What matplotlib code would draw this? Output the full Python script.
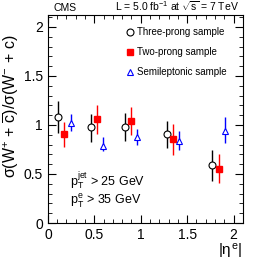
import matplotlib
matplotlib.use('Agg')
import matplotlib.pyplot as plt
from matplotlib.lines import Line2D
from matplotlib.ticker import MultipleLocator

plt.rcParams['font.family'] = ['Liberation Sans', 'DejaVu Sans']
plt.rcParams['mathtext.fontset'] = 'custom'
plt.rcParams['mathtext.rm'] = 'Liberation Sans'
plt.rcParams['mathtext.it'] = 'Liberation Sans'

# values
three_eta = [0.11, 0.46, 0.83, 1.28, 1.77]
three_val = [1.085, 0.977, 0.98, 0.905, 0.592]
three_lo = [0.92, 0.83, 0.837, 0.762, 0.43]
three_hi = [1.24, 1.11, 1.125, 1.044, 0.745]

two_eta = [0.176, 0.524, 0.90, 1.35, 1.84]
two_val = [0.905, 1.058, 1.04, 0.854, 0.551]
two_lo = [0.78, 0.908, 0.898, 0.694, 0.405]
two_hi = [1.034, 1.204, 1.18, 1.007, 0.701]

semi_eta = [0.244, 0.589, 0.96, 1.41, 1.91]
semi_val = [1.017, 0.786, 0.874, 0.84, 0.942]
semi_lo = [0.939, 0.738, 0.80, 0.745, 0.813]
semi_hi = [1.112, 0.881, 0.956, 0.942, 1.08]


def errs(val, lo, hi):
    return [[v - l for v, l in zip(val, lo)], [h - v for v, h in zip(val, hi)]]


fig = plt.figure(figsize=(2.66, 2.70), dpi=100)
ax = fig.add_axes([0.18, 0.174, 0.733, 0.77])

ax.errorbar(three_eta, three_val, yerr=errs(three_val, three_lo, three_hi), fmt='o',
            mfc='white', mec='black', color='black', ms=5, mew=0.8, elinewidth=1)
ax.errorbar(two_eta, two_val, yerr=errs(two_val, two_lo, two_hi), fmt='s',
            mfc='red', mec='red', color='red', ms=5, elinewidth=1)
ax.errorbar(semi_eta, semi_val, yerr=errs(semi_val, semi_lo, semi_hi), fmt='^',
            mfc='white', mec='blue', color='blue', ms=5, mew=0.8, elinewidth=1)

ax.set_xlim(0, 2.1)
ax.set_ylim(0, 2.12)
ax.xaxis.set_minor_locator(MultipleLocator(0.1))
ax.yaxis.set_minor_locator(MultipleLocator(0.1))
ax.tick_params(which='both', direction='in', top=True, right=True, labelsize=10)
ax.tick_params(which='major', length=6)
ax.tick_params(which='minor', length=3)
ax.set_yticks([0, 0.5, 1, 1.5, 2])
ax.set_yticklabels(['0', '0.5', '1', '1.5', '2'])
ax.set_xticks([0, 0.5, 1, 1.5, 2])
ax.set_xticklabels(['0', '0.5', '1', '1.5', '2'])

ax.set_ylabel(r'$\sigma$(W$^{+}$ + $\overline{\rm c}$)/$\sigma$(W$^{-}$ + c)', fontsize=11.5)
ax.yaxis.set_label_coords(-0.14, 0.56)
fig.text(0.91, 0.055, r'|$\eta^{\rm e}$|', fontsize=11, ha='right')

# legend shows markers only
handles = [
    Line2D([], [], ls='none', marker='o', mfc='white', mec='black', ms=5, mew=0.8),
    Line2D([], [], ls='none', marker='s', mfc='red', mec='red', ms=5),
    Line2D([], [], ls='none', marker='^', mfc='white', mec='blue', ms=5, mew=0.8),
]
labels = ['Three-prong sample', 'Two-prong sample', 'Semileptonic sample']
ax.legend(handles, labels, loc='upper left', bbox_to_anchor=(0.35, 0.985), frameon=False,
          fontsize=7, handletextpad=0.2, labelspacing=1.05, handlelength=1)

ax.text(0.113, 0.178, r'p$_{\rm T}^{\rm jet}$ > 25 GeV', transform=ax.transAxes, fontsize=9)
ax.text(0.113, 0.09, r'p$_{\rm T}^{\rm e}$ > 35 GeV', transform=ax.transAxes, fontsize=9)

fig.text(0.2, 0.96, 'CMS', fontsize=7.5)
fig.text(0.9, 0.96, r'L = 5.0 fb$^{-1}$ at $\sqrt{\rm s}$ = 7 TeV', fontsize=7.5, ha='right')

fig.savefig('out.png', dpi=100)
